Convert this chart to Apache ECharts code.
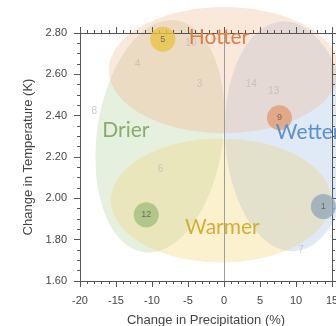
<!DOCTYPE html>
<html>
<head>
<meta charset="utf-8">
<script src="https://cdn.jsdelivr.net/npm/echarts@6/dist/echarts.min.js"></script>
<style>
  html, body { margin: 0; padding: 0; background: #ffffff; }
  #chart { width: 336px; height: 326px; }
</style>
</head>
<body>
<div id="chart"></div>
<script>
// Axis ranges (precipitation change in %, temperature change in K)
const xRange = [-20, 15];
const yRange = [1.6, 2.8];
const xStep = 5;
const yStep = 0.2;

// Models shown as plain numbers
const otherModels = ['4', '8', '3', '10', '14', '13', '6', '7'];
const otherPrecip = [-12.0, -18.0, -3.4, -4.6, 3.8, 6.9, -8.8, 10.7];
const otherTemp   = [2.65, 2.42, 2.55, 2.75, 2.55, 2.52, 2.14, 1.75];

// Representative models, one per climate future
const keyModels = ['5', '9', '12', '1'];
const keyPrecip = [-8.5, 7.7, -10.8, 13.8];
const keyTemp   = [2.77, 2.39, 1.92, 1.96];

// Climate future zones: centre, half-width and half-height in axis units
const zoneNames = ['Hotter', 'Drier', 'Wetter', 'Warmer'];
const zoneCx = [0.0, -8.9, 8.9, -0.4];
const zoneCy = [2.62, 2.30, 2.30, 1.99];
const zoneRx = [16.0, 8.75, 8.75, 15.3];
const zoneRy = [0.305, 0.566, 0.556, 0.300];
const zoneTilt = [0, 8, -3, 0];          // degrees, clockwise on screen
const zoneLabelX = [-4.9, -16.9, 7.2, -5.4];
const zoneLabelY = [2.78, 2.33, 2.32, 1.86];

// Pairs of zones whose overlap forms a petal
const overlapPairs = [[0, 1], [0, 2], [3, 1], [3, 2]];

// Styles
const zoneFill    = ['#fae8da', '#e6f0de', '#dfeaf6', '#fbf1cf'];
const overlapFill = ['#ebdbc3', '#e5d9d5', '#e8e6ba', '#e3e1cc'];
const zoneText    = ['#dc7f45', '#86ad6a', '#5a8fd0', '#d3ae32'];
const keyFill     = ['#e9c343', '#e09c74', '#a3bf7d', '#95a7b8'];

const axisFont = 'Liberation Sans, Arial, sans-serif';

function ellipsePoints(api, k, n) {
  const c = api.coord([zoneCx[k], zoneCy[k]]);
  const s = api.size([zoneRx[k], zoneRy[k]]);
  const t = zoneTilt[k] * Math.PI / 180;
  const pts = [];
  for (let i = 0; i < n; i++) {
    const a = 2 * Math.PI * i / n;
    const ex = s[0] * Math.cos(a), ey = s[1] * Math.sin(a);
    pts.push([c[0] + ex * Math.cos(t) - ey * Math.sin(t),
              c[1] + ex * Math.sin(t) + ey * Math.cos(t)]);
  }
  return pts;
}

function insideEllipse(api, k, p) {
  const c = api.coord([zoneCx[k], zoneCy[k]]);
  const s = api.size([zoneRx[k], zoneRy[k]]);
  const t = zoneTilt[k] * Math.PI / 180;
  const dx = p[0] - c[0], dy = p[1] - c[1];
  const lx = dx * Math.cos(t) + dy * Math.sin(t);
  const ly = -dx * Math.sin(t) + dy * Math.cos(t);
  return (lx / s[0]) * (lx / s[0]) + (ly / s[1]) * (ly / s[1]) <= 1;
}

function overlapPoints(api, a, b) {
  const pa = ellipsePoints(api, a, 360).filter(p => insideEllipse(api, b, p));
  const pb = ellipsePoints(api, b, 360).filter(p => insideEllipse(api, a, p));
  const pts = pa.concat(pb);
  if (pts.length < 3) return pts;
  let mx = 0, my = 0;
  pts.forEach(p => { mx += p[0]; my += p[1]; });
  mx /= pts.length; my /= pts.length;
  pts.sort((p, q) => Math.atan2(p[1] - my, p[0] - mx) - Math.atan2(q[1] - my, q[0] - mx));
  return pts;
}

const tickStyle = { color: '#555', width: 1 };
function makeXAxis(pos, showLabel) {
  return {
    type: 'value', position: pos, min: xRange[0], max: xRange[1], interval: xStep,
    z: 3,
    axisLine: { show: true, onZero: false, lineStyle: { color: '#555', width: 1 } },
    axisTick: { show: true, inside: false, length: 6, lineStyle: tickStyle },
    minorTick: { show: true, splitNumber: 5, length: 3, lineStyle: tickStyle },
    splitLine: { show: false },
    axisLabel: { show: showLabel, margin: 14, color: '#444', fontSize: 11, fontFamily: axisFont },
    name: showLabel ? 'Change in Precipitation (%)' : '',
    nameLocation: 'middle', nameGap: 33,
    nameTextStyle: { color: '#444', fontSize: 13, fontFamily: axisFont }
  };
}
function makeYAxis(pos, showLabel) {
  return {
    type: 'value', position: pos, min: yRange[0], max: yRange[1], interval: yStep,
    z: 3,
    axisLine: { show: true, onZero: false, lineStyle: { color: '#555', width: 1 } },
    axisTick: { show: true, inside: false, length: 6, lineStyle: tickStyle },
    minorTick: { show: true, splitNumber: 4, length: 3, lineStyle: tickStyle },
    splitLine: { show: false },
    axisLabel: { show: showLabel, margin: 13, color: '#444', fontSize: 11, fontFamily: axisFont,
                 formatter: v => v.toFixed(2) },
    name: showLabel ? 'Change in Temperature (K)' : '',
    nameLocation: 'middle', nameGap: 44,
    nameTextStyle: { color: '#444', fontSize: 13, fontFamily: axisFont }
  };
}

const chart = echarts.init(document.getElementById('chart'), null, { renderer: 'canvas' });

chart.setOption({
  backgroundColor: '#ffffff',
  animation: false,
  grid: { left: 80, right: 4, top: 33, bottom: 45, containLabel: false, outerBoundsMode: 'none' },
  xAxis: [makeXAxis('bottom', true), makeXAxis('top', false)],
  yAxis: [makeYAxis('left', true), makeYAxis('right', false)],
  series: [
    {
      // Climate future zones
      type: 'custom', z: 1, clip: false, silent: true,
      data: zoneNames.map((n, i) => [zoneCx[i], zoneCy[i]]),
      renderItem: (params, api) => ({
        type: 'polygon',
        shape: { points: ellipsePoints(api, params.dataIndex, 180) },
        style: { fill: zoneFill[params.dataIndex], stroke: null }
      })
    },
    {
      // Petals where two zones overlap
      type: 'custom', z: 1, clip: false, silent: true,
      data: overlapPairs.map(p => [zoneCx[p[0]], zoneCy[p[1]]]),
      renderItem: (params, api) => {
        const pr = overlapPairs[params.dataIndex];
        return {
          type: 'polygon',
          shape: { points: overlapPoints(api, pr[0], pr[1]) },
          style: { fill: overlapFill[params.dataIndex], stroke: null }
        };
      }
    },
    {
      // Remaining models, labelled by number
      type: 'scatter', z: 4, silent: true,
      data: otherModels.map((m, i) => ({ name: m, value: [otherPrecip[i], otherTemp[i]] })),
      symbolSize: 1,
      itemStyle: { color: 'rgba(0,0,0,0)' },
      label: { show: true, position: 'inside', formatter: p => p.name,
               color: '#bdbdbd', fontSize: 10, fontFamily: axisFont },
      markLine: {
        silent: true, symbol: 'none', animation: false,
        label: { show: false },
        lineStyle: { color: '#9c9c9c', width: 1, type: 'solid' },
        data: [{ xAxis: 0 }]
      }
    },
    {
      // Representative models
      type: 'scatter', z: 5, silent: true,
      data: keyModels.map((m, i) => ({ name: m, value: [keyPrecip[i], keyTemp[i]],
                                       itemStyle: { color: keyFill[i] } })),
      symbol: 'circle', symbolSize: 25,
      label: { show: true, position: 'inside', formatter: p => p.name,
               color: '#555', fontSize: 9, fontFamily: axisFont }
    },
    {
      // Zone names
      type: 'custom', z: 6, clip: false, silent: true,
      data: zoneNames.map((n, i) => [zoneLabelX[i], zoneLabelY[i]]),
      renderItem: (params, api) => {
        const i = params.dataIndex;
        const p = api.coord([zoneLabelX[i], zoneLabelY[i]]);
        return {
          type: 'text', x: p[0], y: p[1],
          style: { text: zoneNames[i], fill: zoneText[i], fontSize: 21,
                   fontFamily: 'Lato, Open Sans, sans-serif',
                   textAlign: 'left', textVerticalAlign: 'middle' }
        };
      }
    }
  ]
});
</script>
</body>
</html>
